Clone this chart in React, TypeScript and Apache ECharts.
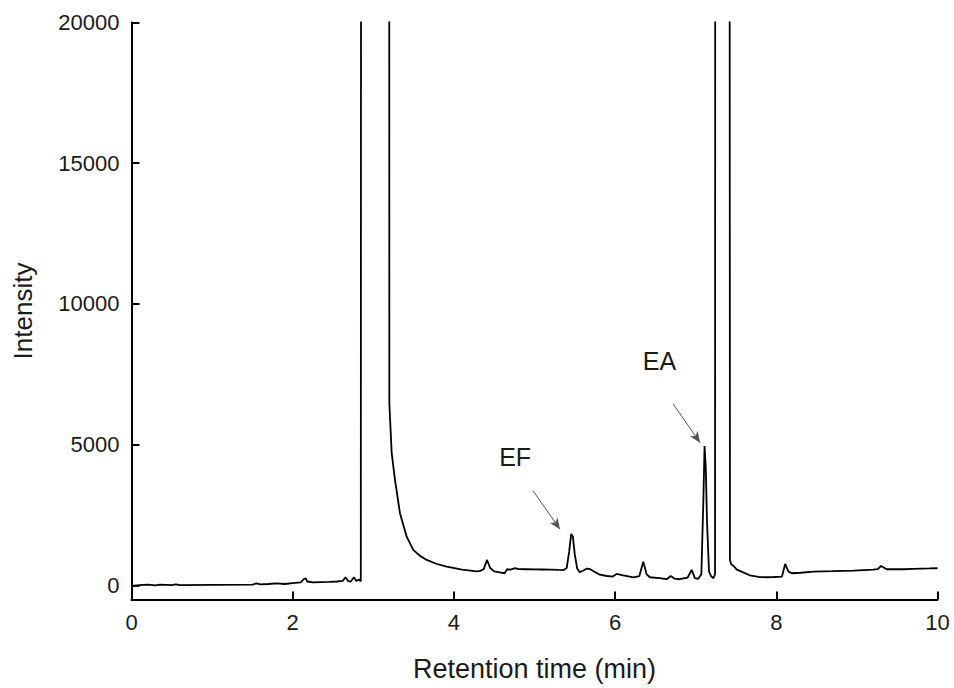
import React, { useEffect, useRef } from "react";
import * as echarts from "echarts";

// Retention time (min)
const times: number[] = [
  0, 0.1, 0.2, 0.3, 0.35, 0.5, 0.55, 0.6, 1.0, 1.5, 1.55, 1.6, 1.7, 1.8, 1.9, 2.0, 2.1, 2.14, 2.16, 2.18, 2.25,
  2.35, 2.45, 2.55, 2.62, 2.655, 2.69, 2.72, 2.76, 2.79, 2.82, 2.845, 2.852,
  3.195, 3.199, 3.228, 3.269, 3.331, 3.414, 3.496, 3.58, 3.663, 3.78, 3.911, 4.1, 4.283, 4.33,
  4.37, 4.41, 4.45, 4.5, 4.57, 4.63, 4.66, 4.7, 4.76, 4.8, 4.9, 5.0, 5.1, 5.2, 5.3, 5.36,
  5.4, 5.43, 5.455, 5.475, 5.5, 5.53, 5.56, 5.6, 5.65, 5.69, 5.75, 5.81, 5.9, 5.97, 6.02, 6.1, 6.23, 6.3,
  6.35, 6.39, 6.43, 6.55, 6.64, 6.69, 6.74, 6.8, 6.9, 6.95, 6.99, 7.03, 7.07, 7.095, 7.11, 7.125, 7.14,
  7.165, 7.19, 7.22, 7.24, 7.246, 7.415, 7.425, 7.44, 7.47, 7.51, 7.56, 7.67, 7.78, 7.88, 7.97, 8.07,
  8.11, 8.15, 8.19, 8.3, 8.46, 8.7, 8.96, 9.2, 9.26, 9.3, 9.37, 9.45, 9.58, 9.7, 9.8, 9.9, 10.0,
];
// Intensity
const intensities: number[] = [
  -20, 10, 30, 0, 30, 10, 40, 10, 20, 30, 70, 40, 50, 70, 50, 80, 110, 230, 256, 140, 110,
  120, 125, 140, 160, 291, 150, 140, 291, 160, 210, 150, 60000,
  60000, 6482, 4706, 3747, 2565, 1733, 1261, 1050, 906, 770, 668, 560, 500, 520,
  580, 906, 620, 500, 460, 433, 575, 560, 611, 580, 575, 570, 565, 560, 550, 545,
  620, 1200, 1829, 1750, 1100, 600, 470, 520, 600, 575, 480, 380, 335, 313, 410, 360, 290, 330,
  845, 400, 290, 260, 220, 337, 240, 220, 280, 550, 260, 230, 400, 3000, 4955, 4200, 2300,
  500, 330, 256, 400, 60000, 60000, 900, 750, 690, 560, 500, 360, 300, 291, 300, 313,
  764, 500, 433, 450, 490, 505, 526, 560, 580, 693, 575, 580, 575, 590, 600, 605, 611,
];

const yTickValues: number[] = [0, 5000, 10000, 15000, 20000];
const annotationNames: string[] = ["EF", "EA"];
const annotationLabelAt: number[][] = [[4.76, 4560], [6.55, 7985]];
const arrowFrom: number[][] = [[4.98, 3370], [6.72, 6450]];
const arrowTo: number[][] = [[5.316, 1996], [7.055, 5072]];

const FONT = "'Liberation Sans', Arial, sans-serif";

export default function App() {
  const ref = useRef<HTMLDivElement>(null);

  useEffect(() => {
    if (!ref.current) return;
    const chart = echarts.init(ref.current, null, { renderer: "svg" });
    const seriesData = times.map((t, i) => [t, intensities[i]]);
    chart.setOption({
      animation: false,
      backgroundColor: "#ffffff",
      grid: { left: 131.5, right: 16.5, top: 22.5, bottom: 88.5, containLabel: false },
      xAxis: {
        type: "value",
        min: 0,
        max: 10,
        interval: 2,
        name: "Retention time (min)",
        nameLocation: "middle",
        nameGap: 56,
        nameTextStyle: { fontFamily: FONT, fontSize: 27, color: "#1a1a1a" },
        axisLine: { onZero: false, lineStyle: { color: "#000", width: 2 } },
        axisTick: { inside: true, length: 8, lineStyle: { color: "#000", width: 2 } },
        axisLabel: { fontFamily: FONT, fontSize: 22, color: "#1a1a1a", margin: 12 },
        splitLine: { show: false },
      },
      yAxis: {
        type: "value",
        min: -500,
        max: 20000,
        name: "Intensity",
        nameLocation: "middle",
        nameGap: 96,
        nameRotate: 90,
        nameTextStyle: { fontFamily: FONT, fontSize: 26, color: "#1a1a1a" },
        axisLine: { show: true, lineStyle: { color: "#000", width: 2 } },
        axisTick: { show: true, inside: true, length: 8, lineStyle: { color: "#000", width: 2 }, customValues: yTickValues },
        axisLabel: {
          fontFamily: FONT,
          fontSize: 22,
          color: "#1a1a1a",
          margin: 12,
          customValues: yTickValues,
          formatter: (v: number) => String(v),
        },
        splitLine: { show: false },
      },
      series: [
        {
          type: "line",
          data: seriesData,
          showSymbol: false,
          symbol: "none",
          smooth: false,
          clip: true,
          lineStyle: { color: "#000", width: 1.8 },
          markLine: {
            silent: true,
            symbol: ["none", "arrow"],
            symbolSize: [7, 11],
            label: { show: false },
            lineStyle: { color: "#555", width: 1, type: "solid" },
            data: arrowFrom.map((f, i) => [
              { coord: f },
              { coord: arrowTo[i] },
            ]),
          },
          markPoint: {
            silent: true,
            symbol: "circle",
            symbolSize: 0,
            label: {
              show: true,
              position: "inside",
              formatter: "{b}",
              fontFamily: FONT,
              fontSize: 25,
              color: "#1a1a1a",
            },
            data: annotationNames.map((n, i) => ({ name: n, coord: annotationLabelAt[i] })),
          },
        },
      ],
    });
    return () => chart.dispose();
  }, []);

  return (
    <div
      ref={ref}
      style={{ position: "fixed", left: 0, top: 0, width: 954, height: 688, background: "#fff" }}
    />
  );
}
